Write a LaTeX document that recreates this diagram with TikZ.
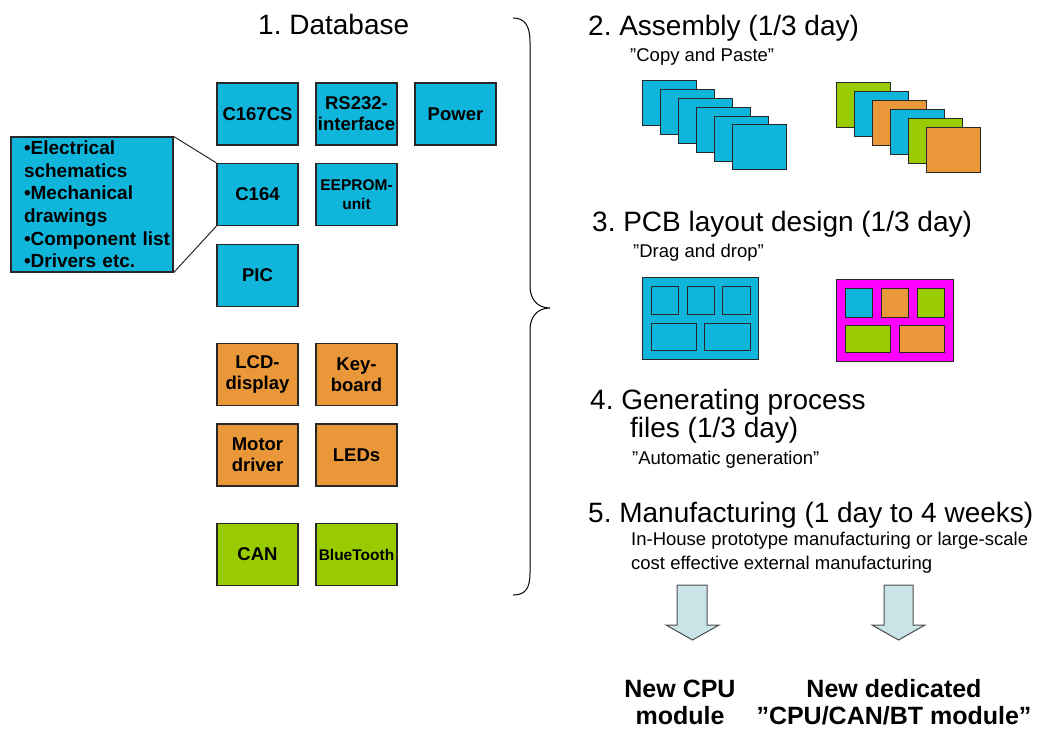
\documentclass[tikz,border=0pt]{standalone}
\usepackage{fontspec}
\setmainfont{Liberation Sans}
\definecolor{cblue}{RGB}{16,181,219}
\definecolor{corange}{RGB}{233,151,56}
\definecolor{cgreen}{RGB}{153,204,0}
\definecolor{cmag}{RGB}{255,0,255}
\definecolor{carrow}{RGB}{200,228,230}
\definecolor{cline}{RGB}{40,40,40}
\frenchspacing
\begin{document}
\begin{tikzpicture}[x=1pt,y=-1pt,
  block/.style={draw=cline, line width=1.2pt, minimum width=81pt, minimum height=62pt, inner sep=0pt, align=center, font=\fontsize{18.5}{21}\selectfont\bfseries},
  smallblock/.style={block, font=\fontsize{15.5}{19}\selectfont\bfseries},
  head/.style={anchor=base west, inner sep=0pt, font=\fontsize{28}{32}\selectfont},
  sub/.style={anchor=base west, inner sep=0pt, font=\fontsize{18.5}{23.5}\selectfont},
  result/.style={align=center, inner sep=0pt, font=\fontsize{25}{27}\selectfont\bfseries},
  card/.style={draw=cline, line width=1pt},
  bigarrow/.style={draw=black!70, fill=carrow, line width=1pt},
  callout/.style={draw=cline, line width=1pt},
]
\useasboundingbox (0,0) rectangle (1042,730);

% database blocks
\node[block, fill=cblue] (c167) at (257.5,114) {C167CS};
\node[block, fill=cblue] (rs232) at (356.5,114) {RS232-\\interface};
\node[block, fill=cblue] (power) at (455.5,114) {Power};
\node[block, fill=cblue] (c164) at (257.5,194.5) {C164};
\node[smallblock, fill=cblue] (eeprom) at (356.5,194.5) {EEPROM-\\unit};
\node[block, fill=cblue] (pic) at (257.5,275.5) {PIC};
\node[block, fill=corange] (lcd) at (257.5,374.5) {LCD-\\display};
\node[block, fill=corange] (key) at (356.5,374.5) {Key-\\board};
\node[block, fill=corange] (motor) at (257.5,455) {Motor\\driver};
\node[block, fill=corange] (leds) at (356.5,455) {LEDs};
\node[block, fill=cgreen] (can) at (257.5,554.5) {CAN};
\node[smallblock, fill=cgreen] (bt) at (356.5,554.5) {BlueTooth};

% callout
\node[draw=cline, line width=1.2pt, fill=cblue, minimum width=162pt, minimum height=135pt,
  inner xsep=13pt, inner ysep=0pt, text width=136pt, align=left,
  font=\fontsize{19}{22.6}\selectfont\bfseries] (info) at (92,204.5)
  {•Electrical\\schematics\\•Mechanical\\drawings\\\mbox{•Component list}\\•Drivers etc.};
\draw[callout] (info.north east) -- (c164.north west);
\draw[callout] (info.south east) -- (c164.south west);

% headings
\node[head] (db) at (258,35) {1. Database};
\node[head] (h2) at (588,36) {2. Assembly (1/3 day)};
\node[sub] (s2) at (630,62) {”Copy and Paste”};
\node[head] (h3) at (592,232) {3. PCB layout design (1/3 day)};
\node[sub] (s3) at (633,258) {”Drag and drop”};
\node[head] (h4a) at (590,409) {4. Generating process};
\node[head] (h4b) at (630,437) {files (1/3 day)};
\node[sub] (s4) at (632,464) {”Automatic generation”};
\node[head] (h5) at (588,522) {5. Manufacturing (1 day to 4 weeks)};
\node[sub] (s5a) at (631,545) {In-House prototype manufacturing or large-scale};
\node[sub] (s5b) at (631,569) {cost effective external manufacturing};

% brace
\draw[line width=1pt] (513,18) .. controls (525,18) and (530,26) .. (530,42) -- (530,286)
  .. controls (530,300) and (538,308) .. (550,308)
  .. controls (538,308) and (530,316) .. (530,330) -- (530,573)
  .. controls (530,589) and (525,595) .. (513,595);

% stacked cards
\foreach \i in {0,...,5}
  \filldraw[card, fill=cblue] ({642+18*\i},{81+8.8*\i}) rectangle ++(54,45);
\foreach \c [count=\i from 0] in {cgreen,cblue,corange,cblue,cgreen,corange}
  \filldraw[card, fill=\c] ({836+18*\i},{83+9*\i}) rectangle ++(54,45);

% PCB boards
\filldraw[card, fill=cblue] (642,278) rectangle (758,359);
\filldraw[card, fill=cblue] (651,287) rectangle (678,314);
\filldraw[card, fill=cblue] (687,287) rectangle (714,314);
\filldraw[card, fill=cblue] (722,287) rectangle (750,314);
\filldraw[card, fill=cblue] (651,323) rectangle (696,350);
\filldraw[card, fill=cblue] (704,323) rectangle (750,350);

\filldraw[card, fill=cmag] (836,280) rectangle (953,361);
\filldraw[card, fill=cblue] (845,289) rectangle (872,317);
\filldraw[card, fill=corange] (881,289) rectangle (908,317);
\filldraw[card, fill=cgreen] (917,289) rectangle (944,317);
\filldraw[card, fill=cgreen] (845,325) rectangle (890,352);
\filldraw[card, fill=corange] (899,325) rectangle (944,352);

% block arrows
\draw[bigarrow] (677,585) -- (707,585) -- (707,625) -- (719,625) -- (692.5,640) -- (666,625) -- (677,625) -- cycle;
\draw[bigarrow] (884,585) -- (913,585) -- (913,625) -- (925,625) -- (898.5,640) -- (872,625) -- (884,625) -- cycle;

% results
\node[result] (rcpu) at (680,702) {New CPU\\module};
\node[result] (rded) at (894,702) {New dedicated\\”CPU/CAN/BT module”};
\end{tikzpicture}
\end{document}
